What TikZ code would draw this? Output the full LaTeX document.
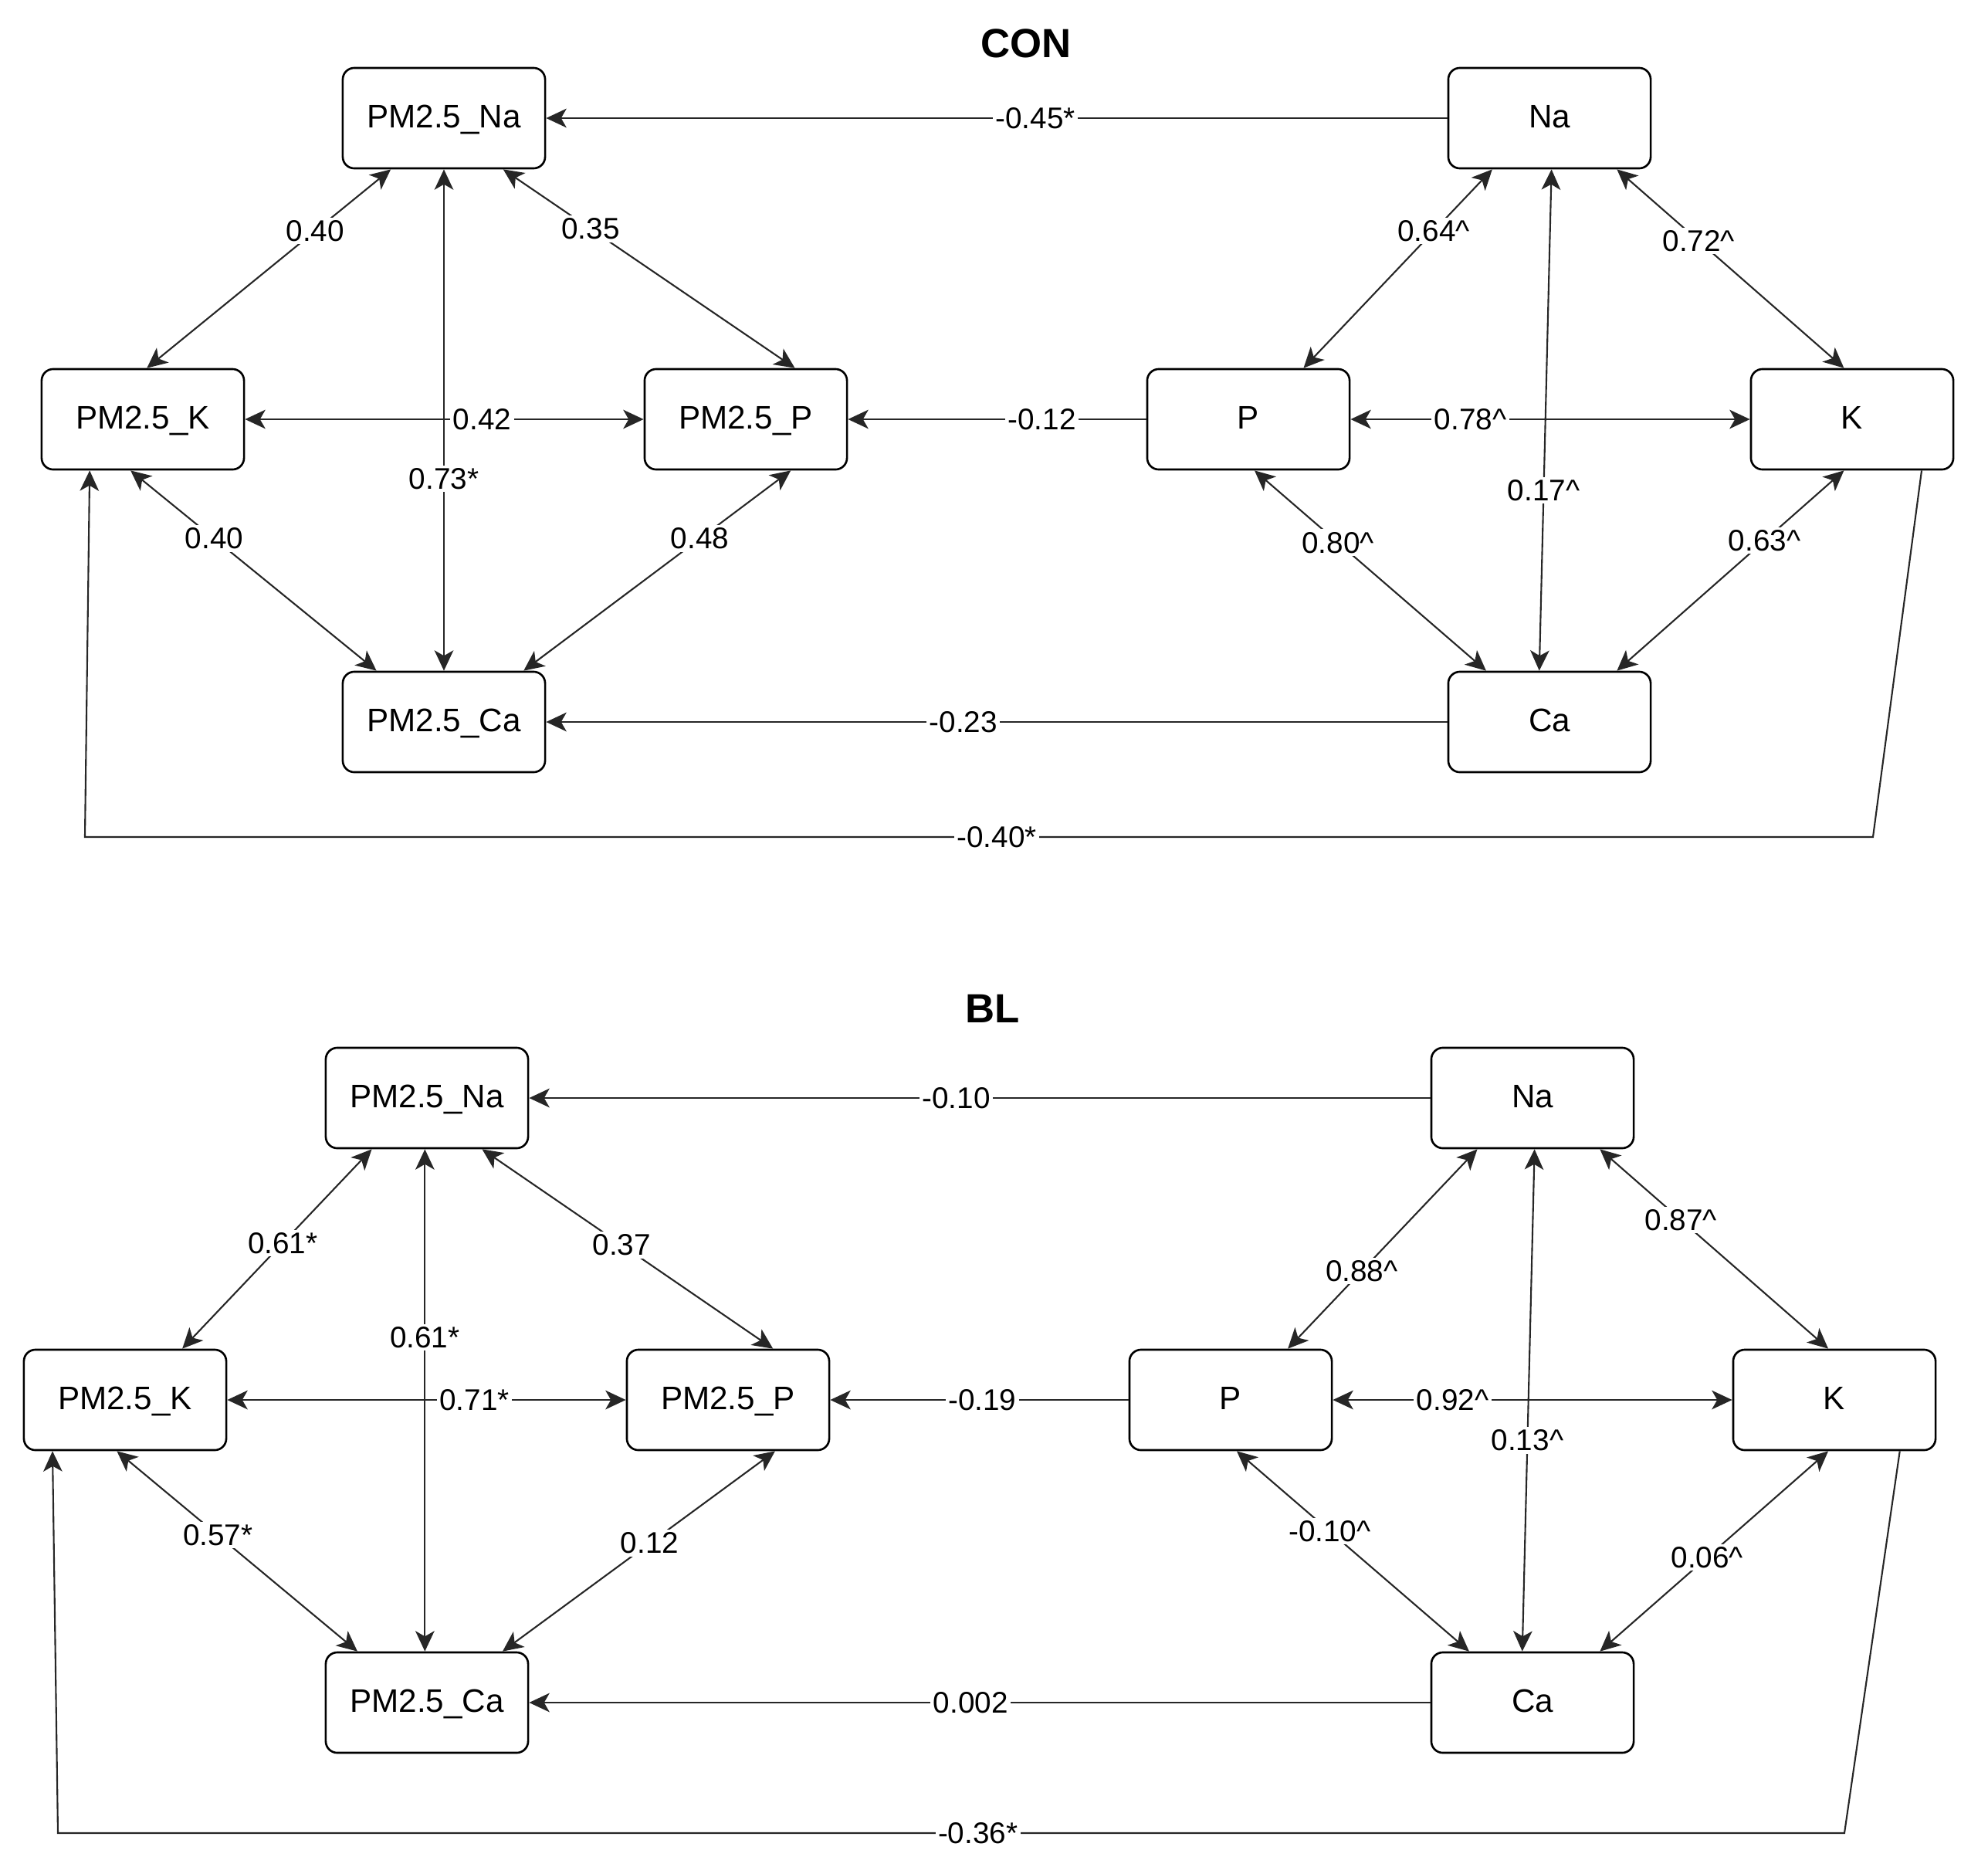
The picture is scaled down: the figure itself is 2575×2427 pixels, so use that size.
\documentclass[tikz,border=0pt]{standalone}
\usepackage{fontspec}
\setmainfont{Liberation Sans}
\usetikzlibrary{calc,arrows.meta}

\begin{document}
\begin{tikzpicture}[x=0.01cm, y=-0.01cm,
  >={Stealth[length=7.5pt,width=7pt,inset=2pt]},
  box/.style={draw=black, line width=0.75pt, rounded corners=0.15cm, minimum width=2.62cm, minimum height=1.30cm, text height=0.72em, text depth=0pt, font=\fontsize{12}{14}\selectfont},
  link/.style={draw=black!85, line width=0.6pt},
  lbl/.style={fill=white, inner sep=1pt, font=\fontsize{11}{13}\selectfont},
  paneltitle/.style={font=\fontsize{15}{18}\selectfont\bfseries}]

\useasboundingbox (0,0) rectangle (2575,2427);

% Titles
\node[paneltitle] (con) at (1329,56) {CON};
\node[paneltitle] (bl) at (1286,1306) {BL};

% CON panel nodes
\foreach \n/\x/\y/\t in {CpmNa/575/153/PM2.5\_Na, CpmK/185/543/PM2.5\_K, CpmP/966/543/PM2.5\_P, CpmCa/575/935/PM2.5\_Ca,
                         CNa/2007/153/Na, CP/1617/543/P, CK/2399/543/K, CCa/2007/935/Ca}
\node[box] (\n) at (\x,\y) {\t};

% BL panel nodes
\foreach \n/\x/\y/\t in {BpmNa/553/1422/PM2.5\_Na, BpmK/162/1813/PM2.5\_K, BpmP/943/1813/PM2.5\_P, BpmCa/553/2205/PM2.5\_Ca,
                         BNa/1985/1422/Na, BP/1594/1813/P, BK/2376/1813/K, BCa/1985/2205/Ca}
\node[box] (\n) at (\x,\y) {\t};

% Diamond connections (lower node top side to upper node bottom side)
\foreach \lo/\fl/\up/\fu/\p/\t in {
  CpmK/0.52/CpmNa/0.24/0.69/0.40, CpmP/0.74/CpmNa/0.79/0.70/0.35, CpmCa/0.5/CpmNa/0.5/0.383/0.73*,
  CpmCa/0.17/CpmK/0.44/0.66/0.40, CpmCa/0.89/CpmP/0.72/0.66/0.48,
  CP/0.77/CNa/0.22/0.69/0.64\textasciicircum, CK/0.46/CNa/0.83/0.64/0.72\textasciicircum, CCa/0.45/CNa/0.51/0.36/0.17\textasciicircum,
  CCa/0.19/CP/0.53/0.64/0.80\textasciicircum, CCa/0.83/CK/0.46/0.65/0.63\textasciicircum,
  BpmK/0.78/BpmNa/0.23/0.53/0.61*, BpmP/0.72/BpmNa/0.77/0.52/0.37, BpmCa/0.49/BpmNa/0.49/0.625/0.61*,
  BpmCa/0.16/BpmK/0.46/0.58/0.57*, BpmCa/0.87/BpmP/0.73/0.54/0.12,
  BP/0.78/BNa/0.23/0.39/0.88\textasciicircum, BK/0.47/BNa/0.83/0.645/0.87\textasciicircum, BCa/0.45/BNa/0.51/0.42/0.13\textasciicircum,
  BCa/0.19/BP/0.53/0.60/-0.10\textasciicircum, BCa/0.83/BK/0.47/0.47/0.06\textasciicircum}
\draw[link, <->] ($(\lo.north west)!\fl!(\lo.north east)$) -- node[lbl, pos=\p] {\t} ($(\up.south west)!\fu!(\up.south east)$);

% Horizontal connections inside each group
\foreach \a/\b/\p/\t in {CpmK/CpmP/0.595/0.42, CP/CK/0.30/0.78\textasciicircum,
                         BpmK/BpmP/0.62/0.71*, BP/BK/0.30/0.92\textasciicircum}
\draw[link, <->] (\a.east) -- node[lbl, pos=\p] {\t} (\b.west);

% Connections from elements to PM2.5
\foreach \a/\b/\p/\t in {CNa/CpmNa/0.457/-0.45*, CP/CpmP/0.35/-0.12, CCa/CpmCa/0.537/-0.23,
                         BNa/BpmNa/0.526/-0.10, BP/BpmP/0.49/-0.19, BCa/BpmCa/0.51/0.002}
\draw[link, ->] (\a.west) -- node[lbl, pos=\p] {\t} (\b.east);

% K to PM2.5_K round the bottom
\coordinate (Cbend1) at (2426,1084);
\coordinate (Cbend2) at (110,1084);
\draw[link, ->] ($(CK.south west)!0.84!(CK.south east)$) -- (Cbend1) -- node[lbl, pos=0.49] {-0.40*} (Cbend2) -- ($(CpmK.south west)!0.24!(CpmK.south east)$);

\coordinate (Bbend1) at (2389,2374);
\coordinate (Bbend2) at (75,2374);
\draw[link, ->] ($(BK.south west)!0.82!(BK.south east)$) -- (Bbend1) -- node[lbl, pos=0.485] {-0.36*} (Bbend2) -- ($(BpmK.south west)!0.145!(BpmK.south east)$);

\end{tikzpicture}
\end{document}
